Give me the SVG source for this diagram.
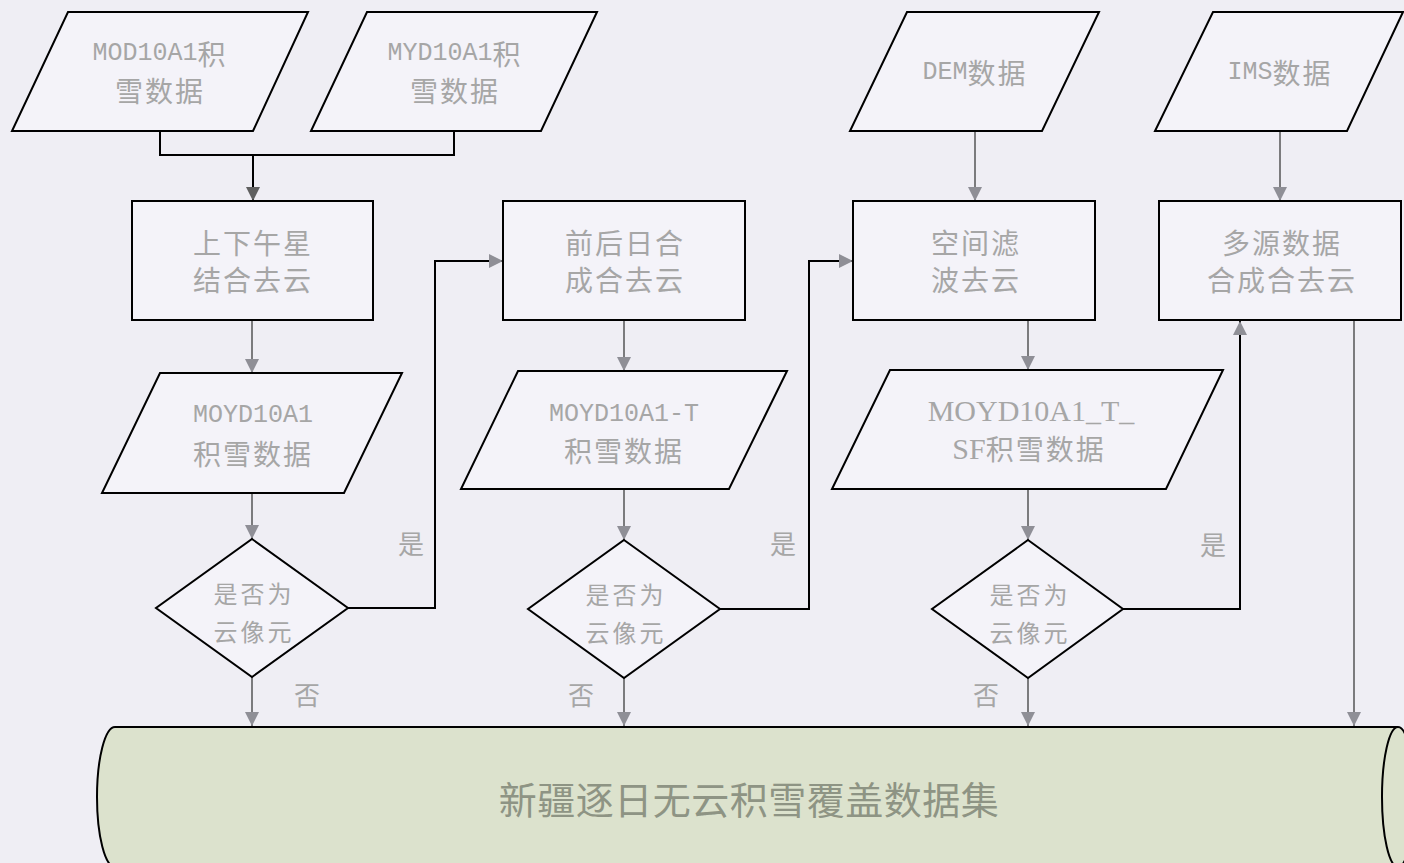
<svg xmlns="http://www.w3.org/2000/svg" width="1404" height="863" viewBox="0 0 1404 863">
<defs>
<style>
.bg{fill:#EFEEF4}
.shape{fill:#F4F3F9;stroke:#000;stroke-width:2}
.cyl{fill:#DCE2CD;stroke:#000;stroke-width:2}
.t{font-family:"Noto Sans CJK SC","Liberation Sans",sans-serif;fill:#A6A6A6;text-anchor:middle;dominant-baseline:central}
.cn{font-size:28px;letter-spacing:2px}
.mono{font-family:"Liberation Mono","Noto Sans CJK SC",monospace;font-size:25px;letter-spacing:0}
.serif{font-family:"Liberation Serif","Noto Sans CJK SC",serif;font-size:30px;letter-spacing:0}
.dia{font-size:24px;letter-spacing:3px}
.lab{font-size:26px}
.big{font-size:38px;fill:#8E9484}
.c1{fill:none;stroke:#000;stroke-width:2}
.c2{fill:none;stroke:#4A4A4A;stroke-width:1.4}
</style>
<marker id="ah" viewBox="0 0 14 14" refX="14" refY="7" markerWidth="14" markerHeight="14" markerUnits="userSpaceOnUse" orient="auto">
<path d="M0,0 L14,7 L0,14 Z" fill="#8F8F96"/>
</marker>
<marker id="ahd" viewBox="0 0 14 14" refX="14" refY="7" markerWidth="14" markerHeight="14" markerUnits="userSpaceOnUse" orient="auto">
<path d="M0,0 L14,7 L0,14 Z" fill="#606060"/>
</marker>
</defs>
<rect class="bg" x="0" y="0" width="1404" height="863"/>

<g id="connectors">
<polyline class="c1" points="160,131 160,155 454,155 454,131"/>
<line class="c1" x1="253" y1="155" x2="253" y2="201" marker-end="url(#ahd)"/>
<line class="c2" x1="252" y1="320" x2="252" y2="373" marker-end="url(#ah)"/>
<line class="c2" x1="252" y1="493" x2="252" y2="539" marker-end="url(#ah)"/>
<polyline class="c1" points="348,608 435,608 435,261 503,261" marker-end="url(#ah)"/>
<line class="c2" x1="252" y1="677" x2="252" y2="726" marker-end="url(#ah)"/>
<line class="c2" x1="624" y1="320" x2="624" y2="371" marker-end="url(#ah)"/>
<line class="c2" x1="624" y1="489" x2="624" y2="540" marker-end="url(#ah)"/>
<polyline class="c1" points="720,609 809,609 809,261 853,261" marker-end="url(#ah)"/>
<line class="c2" x1="624" y1="678" x2="624" y2="726" marker-end="url(#ah)"/>
<line class="c2" x1="975" y1="131" x2="975" y2="201" marker-end="url(#ah)"/>
<line class="c2" x1="1028" y1="320" x2="1028" y2="370" marker-end="url(#ah)"/>
<line class="c2" x1="1028" y1="489" x2="1028" y2="540" marker-end="url(#ah)"/>
<polyline class="c1" points="1123,609 1240,609 1240,321" marker-end="url(#ah)"/>
<line class="c2" x1="1028" y1="678" x2="1028" y2="726" marker-end="url(#ah)"/>
<line class="c2" x1="1280" y1="131" x2="1280" y2="201" marker-end="url(#ah)"/>
<line class="c2" x1="1354" y1="320" x2="1354" y2="726" marker-end="url(#ah)"/>
<text class="t lab" x="411" y="542">是</text>
<text class="t lab" x="783" y="542">是</text>
<text class="t lab" x="1213" y="543">是</text>
<text class="t lab" x="307" y="693">否</text>
<text class="t lab" x="581" y="693">否</text>
<text class="t lab" x="986" y="693">否</text>
</g>

<g id="mod10a1">
<polygon class="shape" points="68,12 308,12 253,131 12,131"/>
<text class="t cn" x="160" y="53"><tspan class="mono">MOD10A1</tspan>积</text>
<text class="t cn" x="160" y="90">雪数据</text>
</g>
<g id="myd10a1">
<polygon class="shape" points="367,12 597,12 541,131 311,131"/>
<text class="t cn" x="455" y="53"><tspan class="mono">MYD10A1</tspan>积</text>
<text class="t cn" x="455" y="90">雪数据</text>
</g>
<g id="dem">
<polygon class="shape" points="907,12 1099,12 1042,131 850,131"/>
<text class="t cn" x="975" y="72"><tspan class="mono">DEM</tspan>数据</text>
</g>
<g id="ims">
<polygon class="shape" points="1213,12 1403,12 1347,131 1155,131"/>
<text class="t cn" x="1280" y="72"><tspan class="mono">IMS</tspan>数据</text>
</g>

<g id="box1">
<rect class="shape" x="132" y="201" width="241" height="119"/>
<text class="t cn" x="253" y="242">上下午星</text>
<text class="t cn" x="253" y="279">结合去云</text>
</g>
<g id="box2">
<rect class="shape" x="503" y="201" width="242" height="119"/>
<text class="t cn" x="625" y="242">前后日合</text>
<text class="t cn" x="625" y="279">成合去云</text>
</g>
<g id="box3">
<rect class="shape" x="853" y="201" width="242" height="119"/>
<text class="t cn" x="976" y="242">空间滤</text>
<text class="t cn" x="976" y="279">波去云</text>
</g>
<g id="box4">
<rect class="shape" x="1159" y="201" width="242" height="119"/>
<text class="t cn" x="1282" y="242">多源数据</text>
<text class="t cn" x="1282" y="279">合成合去云</text>
</g>

<g id="moyd10a1">
<polygon class="shape" points="160,373 402,373 344,493 102,493"/>
<text class="t cn" x="253" y="415"><tspan class="mono">MOYD10A1</tspan></text>
<text class="t cn" x="253" y="453">积雪数据</text>
</g>
<g id="moyd10a1t">
<polygon class="shape" points="518,371 787,371 729,489 461,489"/>
<text class="t cn" x="624" y="414"><tspan class="mono">MOYD10A1-T</tspan></text>
<text class="t cn" x="624" y="450">积雪数据</text>
</g>
<g id="moyd10a1tsf">
<polygon class="shape" points="890,370 1223,370 1166,489 832,489"/>
<text class="t cn" x="1031" y="410"><tspan class="serif">MOYD10A1_T_</tspan></text>
<text class="t cn" x="1029" y="448"><tspan class="serif">SF</tspan>积雪数据</text>
</g>

<g id="dec1">
<polygon class="shape" points="252,539 348,608 252,677 156,608"/>
<text class="t dia" x="254" y="592">是否为</text>
<text class="t dia" x="254" y="630">云像元</text>
</g>
<g id="dec2">
<polygon class="shape" points="624,540 720,609 624,678 528,609"/>
<text class="t dia" x="626" y="593">是否为</text>
<text class="t dia" x="626" y="631">云像元</text>
</g>
<g id="dec3">
<polygon class="shape" points="1028,540 1123,609 1028,678 932,609"/>
<text class="t dia" x="1030" y="593">是否为</text>
<text class="t dia" x="1030" y="631">云像元</text>
</g>

<g id="dataset">
<path class="cyl" d="M115,727 L1398,727 A16,70 0 0 1 1398,867 L115,867 A18,70 0 0 1 115,727 Z"/>
<path class="cyl" d="M1398,727 A16,70 0 0 0 1398,867" fill="none"/>
<text class="t big" x="749" y="797" style="letter-spacing:0.5px">新疆逐日无云积雪覆盖数据集</text>
</g>
</svg>
